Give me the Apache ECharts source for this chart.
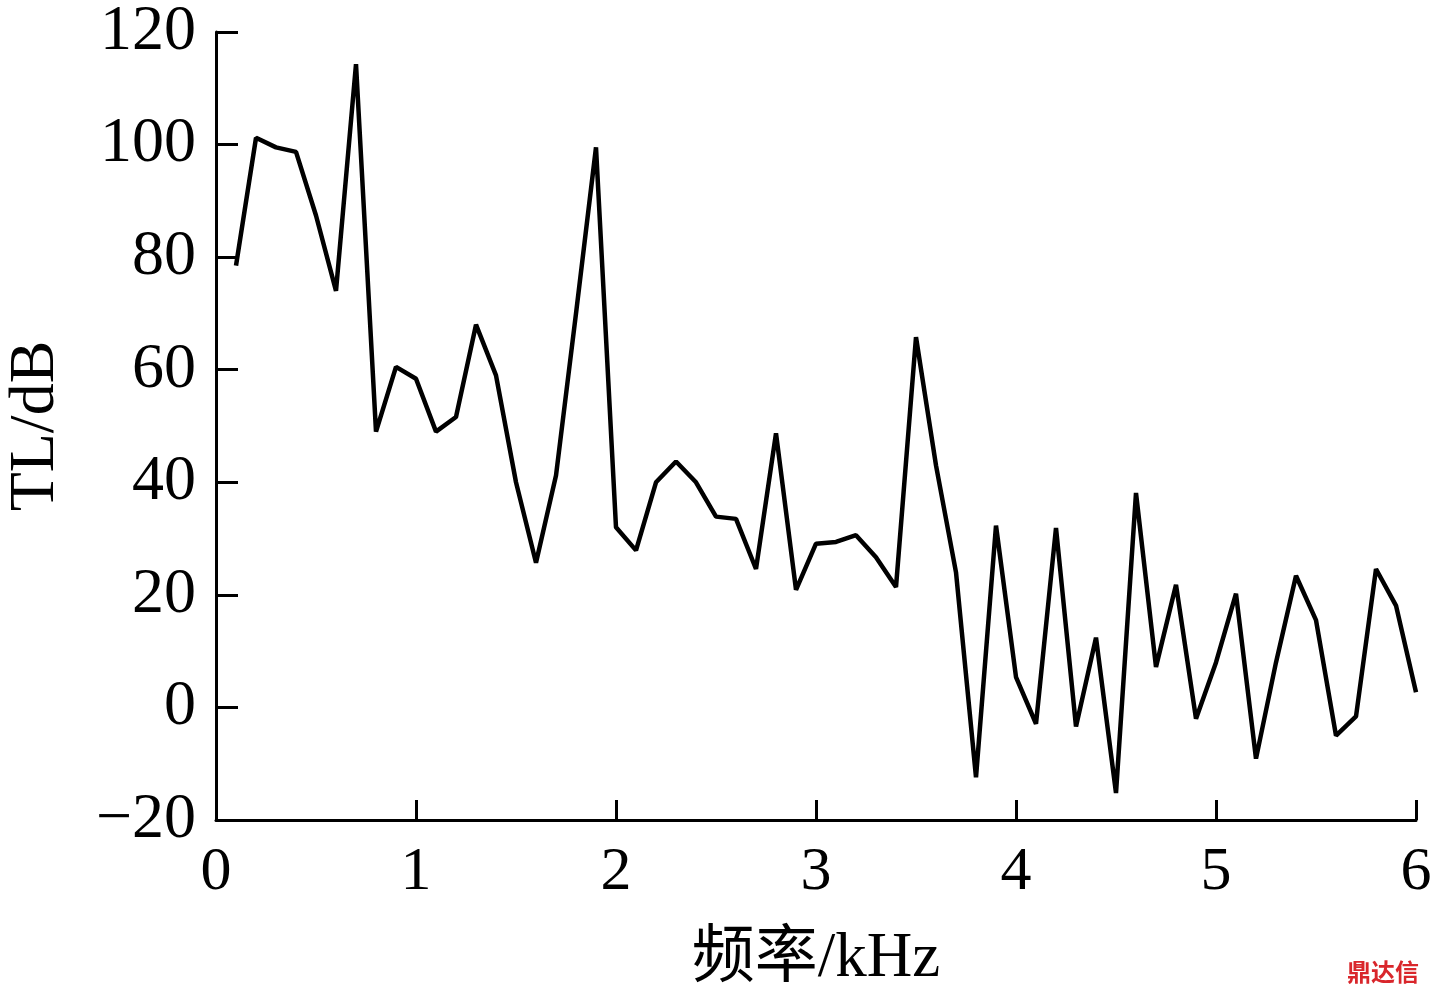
<!DOCTYPE html>
<html>
<head>
<meta charset="utf-8">
<script src="https://cdn.jsdelivr.net/npm/echarts@6/dist/echarts.min.js"></script>
<style>
html,body{margin:0;padding:0;background:#fff;}
#chart{width:1431px;height:994px;}
</style>
</head>
<body>
<div id="chart"></div>
<script>
const freqKHz = [0.1,0.2,0.3,0.4,0.5,0.6,0.7,0.8,0.9,1.0,
  1.1,1.2,1.3,1.4,1.5,1.6,1.7,1.8,1.9,2.0,
  2.1,2.2,2.3,2.4,2.5,2.6,2.7,2.8,2.9,3.0,
  3.1,3.2,3.3,3.4,3.5,3.6,3.7,3.8,3.9,4.0,
  4.1,4.2,4.3,4.4,4.5,4.6,4.7,4.8,4.9,5.0,
  5.1,5.2,5.3,5.4,5.5,5.6,5.7,5.8,5.9,6.0];
const tlDB = [78.5,101.2,99.5,98.7,87.4,74,114.3,49,60.5,58.4,
  49,51.6,68,59,40,25.7,41.2,70,99.5,32,
  27.9,40,43.7,40,33.9,33.5,24.6,48.7,20.9,29.1,
  29.4,30.6,26.7,21.4,65.8,43,24,-12.4,32.3,5.4,
  -2.9,31.9,-3.4,12.4,-15.2,38.1,7.2,21.8,-2.0,8,
  20.2,-9.1,8,23.4,15.5,-5.0,-1.6,24.6,18.1,2.7];
const xTicks = [0,1,2,3,4,5,6];
const yTicks = [-20,0,20,40,60,80,100,120];
const xName = '频率/kHz';
const yName = 'TL/dB';

const FONT = '"Liberation Serif","Times New Roman","Noto Sans CJK SC",serif';
const chart = echarts.init(document.getElementById('chart'), null, {renderer:'canvas'});
chart.setOption({
  animation:false,
  backgroundColor:'#fff',
  grid:{left:216,right:15,top:32,bottom:174,containLabel:false,outerBoundsMode:'none'},
  xAxis:{
    type:'value', min:xTicks[0], max:xTicks[xTicks.length-1], interval:1,
    name:xName, nameLocation:'middle', nameGap:108,
    nameTextStyle:{fontFamily:FONT,fontSize:63,color:'#000'},
    axisLine:{show:true,onZero:false,lineStyle:{color:'#000',width:3}},
    axisTick:{show:true,inside:true,length:20,lineStyle:{color:'#000',width:3}},
    axisLabel:{fontFamily:FONT,fontSize:62,color:'#000',margin:22},
    splitLine:{show:false}
  },
  yAxis:{
    type:'value', min:yTicks[0], max:yTicks[yTicks.length-1], interval:20,
    name:yName, nameLocation:'middle', nameGap:148, nameRotate:90,
    nameTextStyle:{fontFamily:FONT,fontSize:64,color:'#000'},
    axisLine:{show:true,onZero:false,lineStyle:{color:'#000',width:3}},
    axisTick:{show:true,inside:true,length:22,lineStyle:{color:'#000',width:3}},
    axisLabel:{fontFamily:FONT,fontSize:64,color:'#000',margin:20,
      formatter:function(v){return String(v).replace('-','\u2212');}},
    splitLine:{show:false}
  },
  series:[{
    type:'line',
    data:freqKHz.map((f,i)=>[f,tlDB[i]]),
    showSymbol:false,
    lineStyle:{color:'#000',width:4.5},
    itemStyle:{color:'#000'}
  }],
  graphic:[{
    type:'text', right:12, bottom:10,
    style:{text:'鼎达信',fill:'#d9262b',font:'bold 24px "Noto Sans CJK SC",sans-serif'}
  }]
});
</script>
</body>
</html>
